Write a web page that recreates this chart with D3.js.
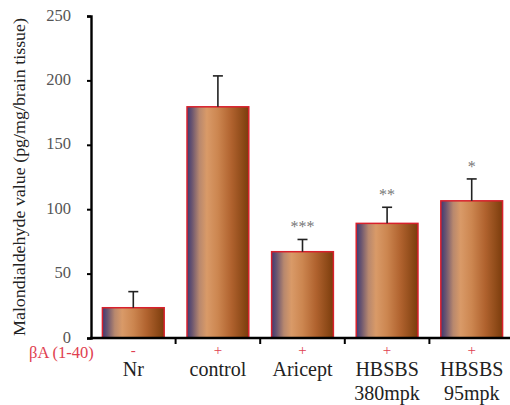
<!DOCTYPE html>
<html>
<head>
<meta charset="utf-8">
<script src="https://cdn.jsdelivr.net/npm/d3@7"></script>
<style>
  html, body { margin: 0; padding: 0; background: #fff; }
</style>
</head>
<body>
<svg id="chart" width="510" height="405"></svg>
<script>
// Malondialdehyde levels per treatment group
const groups = ["Nr", "control", "Aricept", "HBSBS 380mpk", "HBSBS 95mpk"];
const labelLines = [["Nr"], ["control"], ["Aricept"], ["HBSBS", "380mpk"], ["HBSBS", "95mpk"]];
const betaA = ["-", "+", "+", "+", "+"];
const means = [23.5, 179.5, 67, 89, 106.5];
const errors = [12.5, 24, 9.5, 12.5, 17];
const stars = ["", "", "***", "**", "*"];
const yTicks = [0, 50, 100, 150, 200, 250];

const FONT = "Liberation Serif";
const svg = d3.select("#chart");
const margin = { left: 91, top: 16 };
const W = 510;
const plotBottom = 338;

const x = d3.scaleBand().domain(groups).range([margin.left, 514]).paddingInner(0.27).paddingOuter(0.135);
const y = d3.scaleLinear().domain([0, 250]).range([plotBottom, margin.top]);

// Horizontal shading for the bars
const defs = svg.append("defs");
const grad = defs.append("linearGradient").attr("id", "barShade")
  .attr("x1", "0%").attr("x2", "100%").attr("y1", "0%").attr("y2", "0%");
[
  [0, "#3e3a72"], [0.08, "#6a5570"], [0.2, "#b8886e"], [0.32, "#d99a68"],
  [0.5, "#cc8650"], [0.72, "#b0622e"], [0.9, "#8e4a18"], [1, "#7a3c0c"]
].forEach(([o, c]) => grad.append("stop").attr("offset", o).attr("stop-color", c));

// Bars
svg.append("g").selectAll("rect").data(groups).join("rect")
  .attr("x", d => x(d))
  .attr("y", (d, i) => y(means[i]))
  .attr("width", x.bandwidth())
  .attr("height", (d, i) => y(0) - y(means[i]))
  .attr("fill", "url(#barShade)")
  .attr("stroke", "#d8202c")
  .attr("stroke-width", 1.5);

// Error bars (upper only)
const eb = svg.append("g").attr("stroke", "#222").attr("stroke-width", 1.6);
groups.forEach((g, i) => {
  const cx = x(g) + x.bandwidth() / 2;
  eb.append("line").attr("x1", cx).attr("x2", cx)
    .attr("y1", y(means[i])).attr("y2", y(means[i] + errors[i]));
  eb.append("line").attr("x1", cx - 5).attr("x2", cx + 5)
    .attr("y1", y(means[i] + errors[i])).attr("y2", y(means[i] + errors[i]));
});

// Significance markers
svg.append("g").selectAll("text").data(groups).join("text")
  .attr("x", d => x(d) + x.bandwidth() / 2)
  .attr("y", (d, i) => y(means[i] + errors[i]) - 7)
  .attr("text-anchor", "middle")
  .style("font-family", FONT)
  .attr("font-size", 16)
  .attr("fill", "#777")
  .text((d, i) => stars[i]);

// Y axis
const yAxis = svg.append("g").attr("transform", `translate(${margin.left},0)`)
  .call(d3.axisLeft(y).tickValues(yTicks).tickSize(4).tickPadding(16));
yAxis.attr("font-family", FONT);
yAxis.select(".domain").attr("stroke", "#000").attr("stroke-width", 2.4);
yAxis.selectAll(".tick line").attr("stroke", "#000").attr("stroke-width", 2);
yAxis.selectAll(".tick text").style("font-family", FONT).attr("font-size", 16.5)
  .attr("fill", "#555").attr("dy", "0.25em");

// X axis with ticks between groups
const xAxis = svg.append("g").attr("transform", `translate(0,${plotBottom})`);
xAxis.append("line").attr("x1", margin.left - 1).attr("x2", W).attr("y1", 0).attr("y2", 0)
  .attr("stroke", "#000").attr("stroke-width", 2.4);
groups.slice(1).forEach(g => {
  const tx = x(g) - x.step() * x.paddingInner() / 2;
  xAxis.append("line").attr("x1", tx).attr("x2", tx).attr("y1", 0).attr("y2", 6)
    .attr("stroke", "#000").attr("stroke-width", 2);
});

// Treatment markers and group names
groups.forEach((g, i) => {
  const cx = x(g) + x.bandwidth() / 2;
  svg.append("text").attr("x", cx).attr("y", 355).attr("text-anchor", "middle")
    .style("font-family", FONT).attr("font-size", 15).attr("fill", "#e04050").text(betaA[i]);
  labelLines[i].forEach((line, j) => {
    svg.append("text").attr("x", cx).attr("y", 376 + j * 24).attr("text-anchor", "middle")
      .style("font-family", FONT).attr("font-size", 20).attr("fill", "#222").text(line);
  });
});

svg.append("text").attr("x", 29).attr("y", 358)
  .style("font-family", FONT).attr("font-size", 16.5).attr("fill", "#e04050").text("βA (1-40)");

// Y axis title
svg.append("text")
  .attr("transform", `translate(25,177) rotate(-90)`)
  .attr("text-anchor", "middle")
  .style("font-family", FONT)
  .attr("font-size", 16.5)
  .attr("textLength", 318)
  .attr("lengthAdjust", "spacingAndGlyphs")
  .attr("fill", "#222")
  .text("Malondialdehyde value (pg/mg/brain tissue)");
</script>
</body>
</html>
